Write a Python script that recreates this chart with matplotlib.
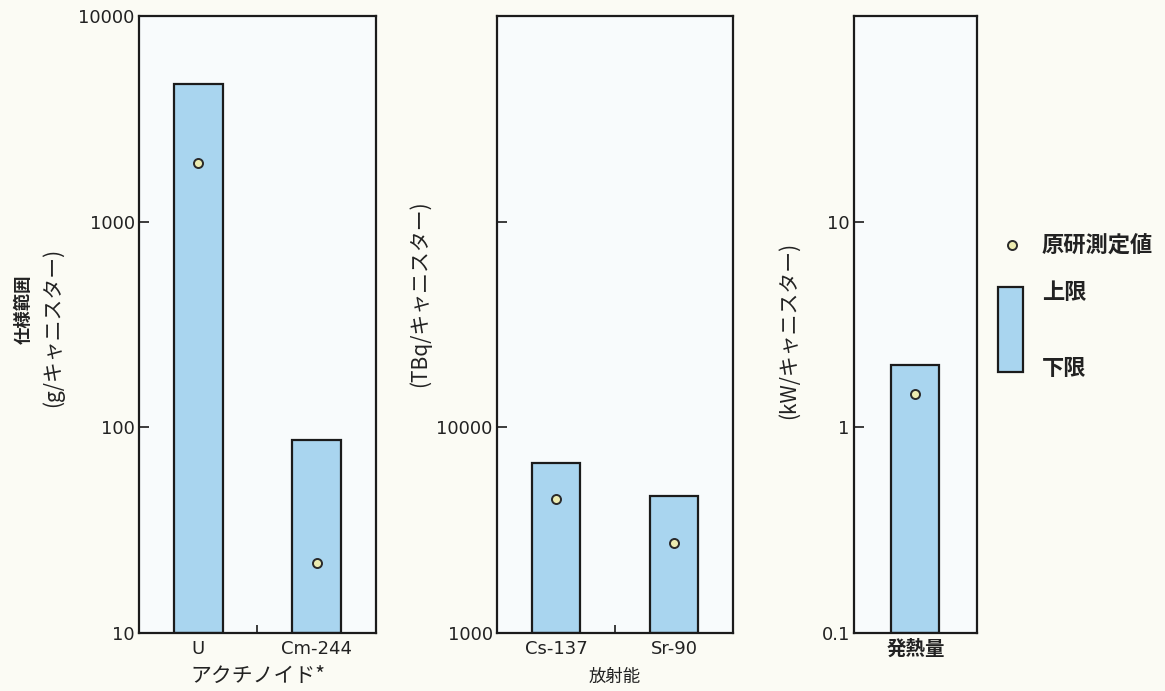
import matplotlib
matplotlib.use("Agg")
import matplotlib.pyplot as plt
from matplotlib.lines import Line2D
from matplotlib.patches import Rectangle
from matplotlib.ticker import FixedLocator

plt.rcParams['font.family'] = ['Noto Sans CJK JP', 'DejaVu Sans']

# Actinides (g/canister)
act_labels = ["U", "Cm-244"]
act_upper = [4650, 87]
act_measured = [1930, 22]

# Radioactivity (TBq/canister)
rad_labels = ["Cs-137", "Sr-90"]
rad_upper = [6700, 4650]
rad_measured = [4500, 2750]

# Heat generation (kW/canister)
heat_labels = ["発熱量"]
heat_upper = [2.0]
heat_measured = [1.45]

BAR_COLOR = "#a9d5ef"
EDGE = "#1b1b1b"
FACE = "#f8fbfc"
BG = "#fbfbf4"
MK_FACE = "#ecebb0"
TXT = "#222222"

fig = plt.figure(figsize=(11.65, 6.91), dpi=100, facecolor=BG)

bottom, height = 0.0839, 0.893
ax1 = fig.add_axes([0.1193, bottom, 0.2034, height])
ax2 = fig.add_axes([0.4266, bottom, 0.2026, height])
ax3 = fig.add_axes([0.7330, bottom, 0.1056, height])


def draw_panel(ax, labels, upper, measured, ylim, major, shown, width, mid_tick):
    ax.set_facecolor(FACE)
    ax.set_yscale("log")
    ax.set_ylim(*ylim)
    x = list(range(len(labels)))
    floor = ylim[0]
    ax.bar(x, [u - floor for u in upper], bottom=floor, width=width,
           color=BAR_COLOR, edgecolor=EDGE, linewidth=1.6, zorder=2)
    ax.plot(x, measured, linestyle="none", marker="o", markersize=6.5,
            markerfacecolor=MK_FACE, markeredgecolor="#2a2a2a",
            markeredgewidth=1.4, zorder=3)
    ax.set_xlim(-0.5, len(labels) - 0.5)
    ax.set_xticks(x)
    ax.set_xticklabels(labels, family=['DejaVu Sans', 'Noto Sans CJK JP'],
                       fontsize=13, color=TXT)
    ax.tick_params(axis="x", which="major", length=0, pad=5)
    if mid_tick:
        ax.xaxis.set_minor_locator(FixedLocator([0.5]))
        ax.tick_params(axis="x", which="minor", direction="in", length=6,
                       width=1.2, color=EDGE)
    else:
        ax.xaxis.set_minor_locator(FixedLocator([]))
    ax.yaxis.set_major_locator(FixedLocator(major))
    ax.yaxis.set_minor_locator(FixedLocator([]))
    ax.yaxis.set_major_formatter(
        matplotlib.ticker.FuncFormatter(
            lambda v, p: (("%g" % v) if v in shown else "")))
    ax.tick_params(axis="y", which="major", direction="in", length=7,
                   width=1.2, color=EDGE, labelsize=13, labelcolor=TXT,
                   pad=3)
    for sp in ax.spines.values():
        sp.set_linewidth(1.6)
        sp.set_color(EDGE)
    for lab in ax.get_yticklabels():
        lab.set_family(['DejaVu Sans'])


draw_panel(ax1, act_labels, act_upper, act_measured, (10, 10000),
           [10, 100, 1000, 10000], [10, 100, 1000, 10000], 0.41, True)
draw_panel(ax2, rad_labels, rad_upper, rad_measured, (1000, 1e6),
           [1000, 1e4, 1e5, 1e6], [1000, 1e4], 0.41, True)
draw_panel(ax3, heat_labels, heat_upper, heat_measured, (0.1, 100),
           [0.1, 1, 10, 100], [0.1, 1, 10], 0.39, False)

ax3.set_xticklabels(heat_labels, fontsize=14, fontweight="bold",
                    family=['Noto Sans CJK JP'], color=TXT)

ax1.set_xlabel("アクチノイド*", fontsize=15, labelpad=5, color=TXT)
ax2.set_xlabel("放射能", fontsize=12.5, labelpad=7, color=TXT)

# Left panel axis title in two rotated lines
fig.text(0.020, 1 - 309 / 691, "仕様範囲", rotation=90, fontsize=12.5,
         fontweight="bold", ha="center", va="center", color=TXT)
fig.text(0.045, 1 - 327 / 691, "(g/キャニスター)", rotation=90,
         fontsize=15, ha="center", va="center", color=TXT)

ax2.set_ylabel("(TBq/キャニスター)", fontsize=15, color=TXT)
ax2.yaxis.set_label_coords(-0.28, 0.55)
ax3.set_ylabel("(kW/キャニスター)", fontsize=15, color=TXT)
ax3.yaxis.set_label_coords(-0.44, 0.49)

# Legend drawn directly on the figure
fig.add_artist(Line2D([0.8687], [0.6454], transform=fig.transFigure,
                      linestyle="none", marker="o", markersize=6.5,
                      markerfacecolor=MK_FACE, markeredgecolor="#2a2a2a",
                      markeredgewidth=1.4))
fig.add_artist(Rectangle((0.8567, 0.4616), 0.0214, 0.1231,
                         transform=fig.transFigure, facecolor=BAR_COLOR,
                         edgecolor=EDGE, linewidth=1.6))
fig.text(0.8944, 0.6454, "原研測定値", fontsize=16, fontweight="bold",
         va="center", ha="left", color=TXT)
fig.text(0.8944, 0.576, "上限", fontsize=16, fontweight="bold",
         va="center", ha="left", color=TXT)
fig.text(0.8944, 0.4674, "下限", fontsize=16, fontweight="bold",
         va="center", ha="left", color=TXT)

fig.savefig("out.png", dpi=100, facecolor=BG)
